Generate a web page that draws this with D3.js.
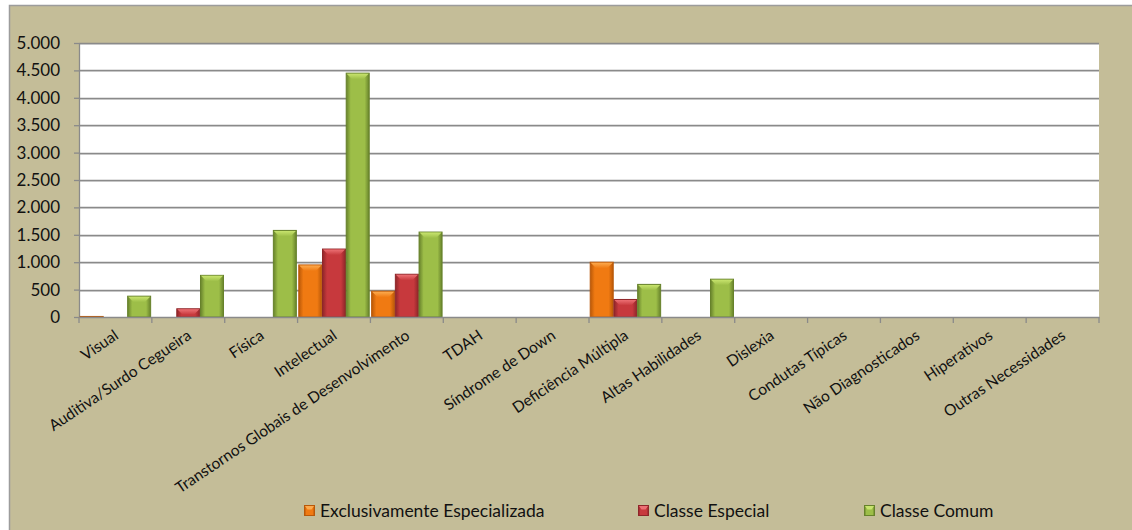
<!DOCTYPE html>
<html>
<head>
<meta charset="utf-8">
<script src="https://cdn.jsdelivr.net/npm/d3@7"></script>
<style>
   html, body { margin: 0; padding: 0; background: #ffffff; }
   #chart { width: 1132px; height: 530px; }
   text { font-family: Lato, "Open Sans", sans-serif; fill: #111; }
</style>
</head>
<body>
<div id="chart"></div>
<script>
// Data
const categories = [
   "Visual", "Auditiva/Surdo Cegueira", "Física", "Intelectual",
   "Transtornos Globais de Desenvolvimento", "TDAH", "Síndrome de Down",
   "Deficiência Múltipla", "Altas Habilidades", "Dislexia", "Condutas Típicas",
   "Não Diagnosticados", "Hiperativos", "Outras Necessidades"
];
const seriesNames = ["Exclusivamente Especializada", "Classe Especial", "Classe Comum"];
const exclusivamente = [10, 0, 0, 950, 470, 0, 0, 1000, 0, 0, 0, 0, 0, 0];
const classeEspecial = [0, 150, 0, 1240, 780, 0, 0, 320, 0, 0, 0, 0, 0, 0];
const classeComum = [380, 760, 1580, 4450, 1550, 0, 0, 595, 690, 0, 0, 0, 0, 0];
const yTicks = [0, 500, 1000, 1500, 2000, 2500, 3000, 3500, 4000, 4500, 5000];

const seriesValues = [exclusivamente, classeEspecial, classeComum];
const colors = [
   { base: "#F07A12", light: "#FCAA4E", dark: "#B95808" },
   { base: "#C7393D", light: "#EC7074", dark: "#8E2629" },
   { base: "#9DBE48", light: "#C8E46E", dark: "#67822B" }
];

const width = 1132, height = 530;
const margin = { top: 43, right: 33, bottom: 213, left: 79 };
const innerW = width - margin.left - margin.right;
const innerH = height - margin.top - margin.bottom;

const fmt = d3.formatLocale({ decimal: ",", thousands: ".", grouping: [3], currency: ["R$", ""] }).format(",d");

const svg = d3.select("#chart").append("svg")
   .attr("width", width)
   .attr("height", height);

// Gradients for the bevelled bars
const defs = svg.append("defs");
colors.forEach((c, i) => {
   const g = defs.append("linearGradient").attr("id", "grad" + i)
      .attr("x1", "0%").attr("x2", "100%").attr("y1", "0%").attr("y2", "0%");
   g.append("stop").attr("offset", "0%").attr("stop-color", c.dark);
   g.append("stop").attr("offset", "20%").attr("stop-color", c.base);
   g.append("stop").attr("offset", "80%").attr("stop-color", c.base);
   g.append("stop").attr("offset", "100%").attr("stop-color", c.dark);
   const t = defs.append("linearGradient").attr("id", "top" + i)
      .attr("x1", "0%").attr("x2", "0%").attr("y1", "0%").attr("y2", "100%");
   t.append("stop").attr("offset", "0%").attr("stop-color", c.light);
   t.append("stop").attr("offset", "100%").attr("stop-color", c.base);
});

// Chart area background
svg.append("rect")
   .attr("x", 9.5).attr("y", 5.5)
   .attr("width", width + 20).attr("height", height + 20)
   .attr("fill", "#C4BD98")
   .attr("stroke", "#9C9C9C")
   .attr("stroke-width", 1.5);

const g = svg.append("g")
   .attr("transform", "translate(" + margin.left + "," + margin.top + ")");

// Plot area
g.append("rect")
   .attr("width", innerW).attr("height", innerH)
   .attr("fill", "#ffffff");

// Scales
const x = d3.scaleBand().domain(categories).range([0, innerW]).padding(0);
const xInner = d3.scaleBand().domain(d3.range(3)).range([0.5, x.bandwidth() - 0.5]).padding(0.03);
const y = d3.scaleLinear().domain([0, 5000]).range([innerH, 0]);

// Gridlines
const grid = g.append("g").attr("class", "grid");
grid.selectAll(".shadow").data(yTicks.slice(1)).enter().append("line")
   .attr("x1", 0).attr("x2", innerW)
   .attr("y1", d => Math.round(y(d)) + 1.5).attr("y2", d => Math.round(y(d)) + 1.5)
   .attr("stroke", "#DADADA").attr("stroke-width", 1);
grid.selectAll(".line").data(yTicks.slice(1)).enter().append("line")
   .attr("x1", 0).attr("x2", innerW)
   .attr("y1", d => Math.round(y(d)) + 0.5).attr("y2", d => Math.round(y(d)) + 0.5)
   .attr("stroke", "#8A8A8A").attr("stroke-width", 1.3);

// Left axis
const leftAxis = g.append("g")
   .call(d3.axisLeft(y).tickValues(yTicks).tickFormat(fmt).tickSize(0).tickPadding(19));
leftAxis.select(".domain").attr("stroke", "#8A8A8A").attr("stroke-width", 1.3);
leftAxis.selectAll("text")
   .attr("font-size", "17px")
   .attr("font-family", "Lato, sans-serif")
   .attr("fill", "#111");
leftAxis.selectAll(".tick line").remove();
leftAxis.selectAll(".tick")
   .append("line").attr("x1", -5).attr("x2", 0).attr("stroke", "#8A8A8A").attr("stroke-width", 1.3);

// Bars
const bars = [];
categories.forEach((cat, ci) => {
   seriesValues.forEach((vals, si) => {
      if (vals[ci] > 0) bars.push({ cat: cat, s: si, v: vals[ci] });
   });
});

const barG = g.selectAll(".bar").data(bars).enter().append("g").attr("class", "bar");
barG.append("rect")
   .attr("x", d => x(d.cat) + xInner(d.s))
   .attr("y", d => y(d.v))
   .attr("width", xInner.bandwidth())
   .attr("height", d => innerH - y(d.v))
   .attr("fill", d => "url(#grad" + d.s + ")")
   .attr("stroke", d => colors[d.s].dark)
   .attr("stroke-width", 1);
// top bevel
barG.append("path")
   .attr("d", d => {
      const x0 = x(d.cat) + xInner(d.s), w = xInner.bandwidth();
      const y0 = y(d.v), h = Math.min(6, innerH - y(d.v));
      const inset = Math.min(6, h);
      return "M" + (x0 + 0.5) + "," + (y0 + 0.5) + "L" + (x0 + w - 0.5) + "," + (y0 + 0.5) +
         "L" + (x0 + w - inset) + "," + (y0 + h) + "L" + (x0 + inset) + "," + (y0 + h) + "Z";
   })
   .attr("fill", d => "url(#top" + d.s + ")");

// Bottom axis
const bottomAxis = g.append("g")
   .attr("transform", "translate(0," + innerH + ")")
   .call(d3.axisBottom(x).tickSize(0).tickFormat(""));
bottomAxis.select(".domain").attr("stroke", "#8A8A8A").attr("stroke-width", 1.3);
bottomAxis.selectAll(".tick").remove();
bottomAxis.selectAll(".sep").data(d3.range(categories.length + 1)).enter().append("line")
   .attr("x1", i => i * x.step()).attr("x2", i => i * x.step())
   .attr("y1", 0).attr("y2", 6)
   .attr("stroke", "#8A8A8A").attr("stroke-width", 1.3);

// Rotated category labels
g.append("g").selectAll("text").data(categories).enter().append("text")
   .attr("text-anchor", "end")
   .attr("font-size", "15.5px")
   .attr("transform", d => "translate(" + (x(d) + x.bandwidth() / 2 + 4) + "," + (innerH + 21) + ") rotate(-34)")
   .text(d => d);

// Legend
const legendX = [304, 638, 864];
const legend = svg.append("g").selectAll("g").data(seriesNames).enter().append("g")
   .attr("transform", (d, i) => "translate(" + legendX[i] + ",505)");
legend.append("rect")
   .attr("x", 0.5).attr("y", 0.5)
   .attr("width", 10).attr("height", 10)
   .attr("fill", (d, i) => "url(#grad" + i + ")")
   .attr("stroke", (d, i) => colors[i].dark).attr("stroke-width", 1);
legend.append("path")
   .attr("d", "M1,1L10,1L7.5,4.5L3.5,4.5Z")
   .attr("fill", (d, i) => colors[i].light);
legend.append("text")
   .attr("x", 16).attr("y", 11.5)
   .attr("font-size", "17.5px")
   .text(d => d);
</script>
</body>
</html>
